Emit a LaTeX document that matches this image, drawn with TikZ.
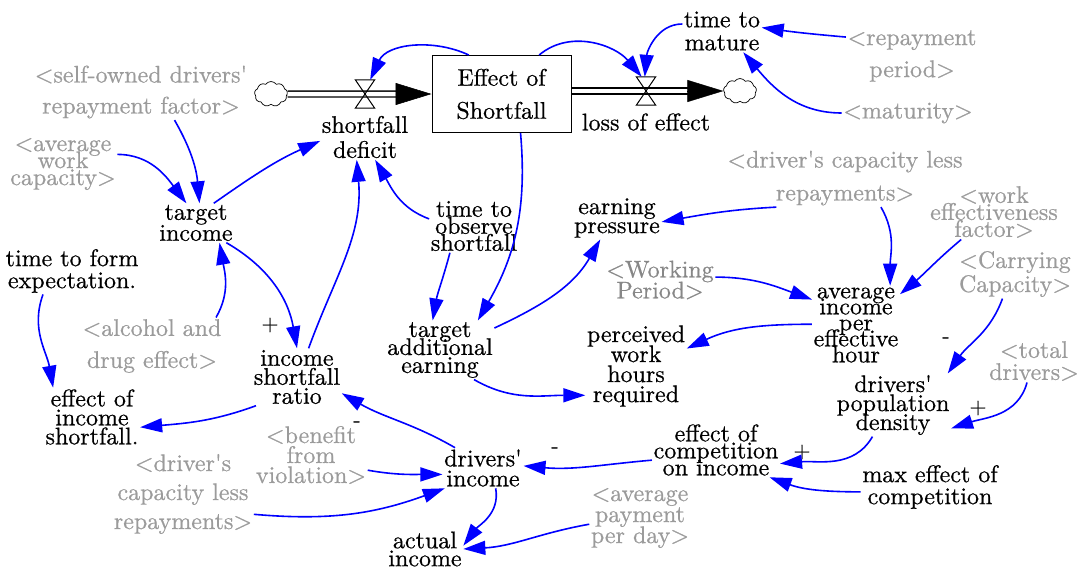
\documentclass[tikz,border=0pt]{standalone}
\usepackage{fontspec}
\setmainfont{lmroman10-regular}[Extension=.otf, FakeBold=0.6]
\usetikzlibrary{arrows.meta,shapes.symbols}
\definecolor{shadowgray}{RGB}{155,155,155}
\definecolor{wpgray}{RGB}{135,135,135}
\definecolor{linkblue}{RGB}{0,0,255}
\newcommand{\apos}{\textquotesingle}

\begin{document}
\begin{tikzpicture}[x=1pt,y=1pt,
  var/.style={align=center, inner sep=1.5pt,
    font={\rmfamily\fontsize{24}{#1}\selectfont\lineskiplimit=-60pt\lineskip=0pt}},
  var/.default=20,
  ghost/.style={var=#1, text=shadowgray},
  ghost/.default=30,
  stockbox/.style={draw, line width=1pt, minimum width=139pt, minimum height=77pt,
    align=center, inner sep=0pt, font={\rmfamily\fontsize{24}{33}\selectfont}},
  valvebox/.style={minimum width=19pt, minimum height=28pt, inner sep=0pt},
  valveline/.style={line width=1pt, line join=miter},
  sourcecloud/.style={cloud, draw, cloud puffs=9, cloud puff arc=110, aspect=1.4,
    minimum width=33pt, minimum height=25pt, inner sep=0pt, line width=0.7pt},
  pipe/.style={double=white, double distance=4.5pt, line width=1.4pt, shorten >=34pt},
  pipehead/.style={-{Triangle[length=36pt,width=22pt]}, line width=0.5pt},
  link/.style={color=linkblue, line width=1.6pt, -{Triangle[length=22pt,width=14pt]}},
  sign/.style={inner sep=1pt, font={\rmfamily\fontsize{22}{22}\selectfont}}
]
\useasboundingbox (0,0) rectangle (1079,-568);

% stock, flows and clouds
\node[stockbox] (stock) at (501.5,-94) {Effect of\\Shortfall};
\node[sourcecloud] (cl) at (271,-94) {};
\node[sourcecloud] (cr) at (740,-91) {};
\node[valvebox] (v1) at (365,-94) {};
\node[valvebox] (v2) at (646,-91) {};

\draw[pipe] (cl.east) -- (stock.west);
\draw[pipehead] ([xshift=-36pt]stock.west) -- (stock.west);
\draw[pipe] (cr.west -| stock.east) -- (cr.west);
\draw[pipehead] ([xshift=-36pt]cr.west) -- (cr.west);

\draw[valveline] (v1.north west) -- (v1.north east) -- (v1.south west) -- (v1.south east) -- cycle;
\draw[valveline] (v2.north west) -- (v2.north east) -- (v2.south west) -- (v2.south east) -- cycle;

% variables
\node[var=25] (sd) at (365,-137) {shortfall\\deficit};
\node[var] (loe) at (646,-122) {loss of effect};
\node[var=23] (tm) at (722,-31) {time to\\mature};
\node[ghost=32] (rp) at (912,-56) {<repayment\\period>};
\node[ghost] (mat) at (908,-113) {<maturity>};
\node[ghost=31] (so) at (141,-92) {<self-owned drivers\apos\\repayment factor>};
\node[ghost=17] (aw) at (63,-164) {<average\\work\\capacity>};
\node[var=21] (ti) at (196,-223) {target\\income};
\node[var=22] (tfe) at (72,-271) {time to form\\expectation.};
\node[ghost=32] (alc) at (152,-346) {<alcohol and\\drug effect>};
\node[var=19] (isr) at (297,-377) {income\\shortfall\\ratio};
\node[var=19] (eis) at (92,-417) {effect of\\income\\shortfall.};
\node[ghost=20] (bfv) at (311,-455) {<benefit\\from\\violation>};
\node[ghost=29] (dcl) at (183,-494) {<driver\apos s\\capacity less\\repayments>};
\node[var=20] (di) at (483,-468) {drivers\apos\\income};
\node[var=18] (ai) at (425,-549) {actual\\income};
\node[ghost=21] (apd) at (640,-518) {<average\\payment\\per day>};
\node[var=17] (eci) at (716,-450) {effect of\\competition\\on income};
\node[var=22] (mec) at (930,-487) {max effect of\\competition};
\node[var=19] (dpd) at (893,-405) {drivers\apos\\population\\density};
\node[ghost=22] (td) at (1034,-361) {<total\\drivers>};
\node[ghost=24] (cc) at (1015,-274) {<Carrying\\Capacity>};
\node[ghost=17] (wef) at (994,-212) {<work\\effectiveness\\factor>};
\node[ghost=33] (dcr) at (845,-178) {<driver\apos s capacity less\\repayments>};
\node[var=16] (aiph) at (856,-325) {average\\income\\per\\effective\\hour};
\node[ghost=21, text=wpgray] (wp) at (660,-280) {<Working\\Period>};
\node[var=20] (pwh) at (636,-366) {perceived\\work\\hours\\required};
\node[var=19] (ep) at (617,-218) {earning\\pressure};
\node[var=17] (tos) at (474,-226) {time to\\observe\\shortfall};
\node[var=18] (tae) at (440,-350) {target\\additional\\earning};

% polarity signs
\node[sign] (s1) at (270,-325) {+};
\node[sign] (s2) at (357,-424) {-};
\node[sign] (s3) at (555,-450) {-};
\node[sign] (s4) at (802,-452) {+};
\node[sign] (s5) at (978,-408) {+};
\node[sign] (s6) at (946,-340) {-};

% causal links
\draw[link] (stock.130) to[out=155,in=65] (v1.70);
\draw[link] (stock.46) to[out=40,in=130] (v2.107);
\draw[link] (tm.170) to[out=180,in=85] (v2.95);
\draw[link] (rp.164) to[out=175,in=-8] (tm.5);
\draw[link] (mat.180) to[out=180,in=-50] (tm.-45);
\draw[link] (so.-40) to[out=-60,in=95] (ti.80);
\draw[link] (aw.10) to[out=0,in=127] (ti.116);
\draw[link] (ti.48) to[out=35,in=204] (sd.185);
\draw[link] (isr.68) to[out=70,in=-85] (sd.-110);
\draw[link] (tos.171) to[out=160,in=-60] (sd.-66);
\draw[link] (tos.-132) to[out=-105,in=80] (tae.104);
\draw[link] (stock.-64) to[out=-85,in=60] (tae.38);
\draw[link] (tae.22) to[out=25,in=-120] (ep.-128);
\draw[link] (tae.-41) to[out=-30,in=180] (pwh.-150);
\draw[link] (dcr.-157) to[out=183,in=10] (ep.-5);
\draw[link] (dcr.-39) to[out=-60,in=90] (aiph.49);
\draw[link] (wef.-140) to[out=-140,in=40] (aiph.35);
\draw[link] (wp.3) to[out=0,in=160] (aiph.150);
\draw[link] (aiph.179) to[out=180,in=25] (pwh.19);
\draw[link] (cc.-117) to[out=-110,in=55] (dpd.30);
\draw[link] (td.-108) to[out=-105,in=18] (dpd.-22);
\draw[link] (dpd.-123) to[out=-120,in=5] (eci.-12);
\draw[link] (mec.184) to[out=180,in=-20] (eci.-27);
\draw[link] (eci.189) to[out=185,in=-5] (di.3);
\draw[link] (bfv.-15) to[out=-10,in=180] (di.189);
\draw[link] (dcl.-16) to[out=-5,in=200] (di.208);
\draw[link] (di.144) to[out=150,in=-30] (isr.-20);
\draw[link] (di.-58) to[out=-80,in=53] (ai.5);
\draw[link] (apd.187) to[out=190,in=3] (ai.0);
\draw[link] (ti.-33) to[out=-30,in=100] (isr.90);
\draw[link] (alc.24) to[out=60,in=-80] (ti.-40);
\draw[link] (tfe.-141) to[out=-110,in=100] (eis.143);
\draw[link] (isr.-145) to[out=-160,in=5] (eis.-12);
\end{tikzpicture}
\end{document}
